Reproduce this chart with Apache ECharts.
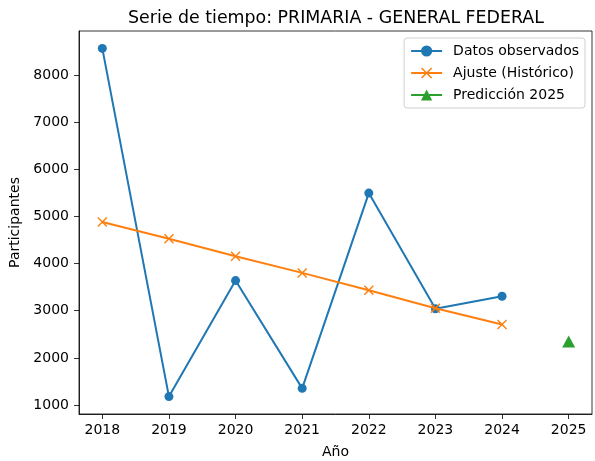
<!DOCTYPE html>
<html>
<head>
<meta charset="utf-8">
<script src="https://cdn.jsdelivr.net/npm/echarts@6/dist/echarts.min.js"></script>
<style>
  html, body { margin: 0; padding: 0; background: #fff; }
  #chart { width: 595px; height: 461px; }
</style>
</head>
<body>
<div id="chart"></div>
<script>
// data
var years = [2018, 2019, 2020, 2021, 2022, 2023, 2024]
var observed = [8566, 1178, 3640, 1353, 5496, 3041, 3307]
var fitted = [4882, 4529, 4154, 3803, 3434, 3053, 2708]
var predYears = [2025]
var predValues = [2345]
var xTicks = [2018, 2019, 2020, 2021, 2022, 2023, 2024, 2025]
var yTicks = [1000, 2000, 3000, 4000, 5000, 6000, 7000, 8000]

var font = 'DejaVu Sans'
var crossPath = 'path://M0,1L1,0L5,4L9,0L10,1L6,5L10,9L9,10L5,6L1,10L0,9L4,5Z'

function pairs(xs, ys) {
    return xs.map(function (x, i) { return [x, ys[i]] })
}
function plain(v) { return String(v) }

var axisCommon = {
    axisLine: { show: true, lineStyle: { color: '#000', width: 0.8 } },
    axisTick: { show: true, inside: false, length: 5, lineStyle: { color: '#000', width: 0.8 } },
    splitLine: { show: false },
    nameTextStyle: { color: '#000', fontFamily: font, fontSize: 14 }
}

var chart = echarts.init(document.getElementById('chart'))
var option = {
    animation: false,
    backgroundColor: '#fff',
    textStyle: { fontFamily: font },
    title: {
        text: 'Serie de tiempo: PRIMARIA - GENERAL FEDERAL',
        left: 331,
        textAlign: 'center',
        top: 5,
        textStyle: { color: '#000', fontFamily: font, fontSize: 17.4, fontWeight: 'normal' }
    },
    grid: {
        left: 79, right: 3, top: 31, bottom: 47,
        show: true, borderColor: '#000', borderWidth: 0.8,
        containLabel: false,
        outerBoundsMode: 'none'
    },
    legend: {
        orient: 'vertical',
        right: 10,
        top: 38,
        itemWidth: 31,
        itemHeight: 14,
        itemGap: 8,
        padding: [6, 6, 6, 6],
        backgroundColor: '#fff',
        borderColor: '#d0d0d0',
        borderWidth: 1,
        borderRadius: 3,
        textStyle: { color: '#000', fontFamily: font, fontSize: 14, padding: [0, 0, 0, 6] },
        data: ['Datos observados', 'Ajuste (Histórico)', 'Predicción 2025']
    },
    xAxis: Object.assign({}, axisCommon, {
        type: 'value',
        min: 2017.65,
        max: 2025.35,
        name: 'Año',
        nameLocation: 'middle',
        nameGap: 31,
        axisTick: Object.assign({}, axisCommon.axisTick, { customValues: xTicks }),
        axisLabel: { customValues: xTicks, formatter: plain, color: '#000', fontFamily: font, fontSize: 14, margin: 9 }
    }),
    yAxis: Object.assign({}, axisCommon, {
        type: 'value',
        min: 809,
        max: 8935,
        name: 'Participantes',
        nameLocation: 'middle',
        nameGap: 46,
        axisTick: Object.assign({}, axisCommon.axisTick, { customValues: yTicks }),
        axisLabel: { customValues: yTicks, formatter: plain, color: '#000', fontFamily: font, fontSize: 14, margin: 10 }
    }),
    series: [
        {
            name: 'Datos observados',
            type: 'line',
            data: pairs(years, observed),
            symbol: 'circle',
            symbolSize: 9,
            showAllSymbol: true,
            lineStyle: { color: '#1f77b4', width: 2 },
            itemStyle: { color: '#1f77b4' },
            z: 3
        },
        {
            name: 'Ajuste (Histórico)',
            type: 'line',
            data: pairs(years, fitted),
            symbol: crossPath,
            symbolSize: 10,
            showAllSymbol: true,
            lineStyle: { color: '#ff7f0e', width: 2 },
            itemStyle: { color: '#ff7f0e' },
            z: 4
        },
        {
            name: 'Predicción 2025',
            type: 'line',
            data: pairs(predYears, predValues),
            symbol: 'triangle',
            symbolSize: [13, 12],
            lineStyle: { color: '#2ca02c', width: 2 },
            itemStyle: { color: '#2ca02c' },
            z: 5
        }
    ]
}
chart.setOption(option)
</script>
</body>
</html>
